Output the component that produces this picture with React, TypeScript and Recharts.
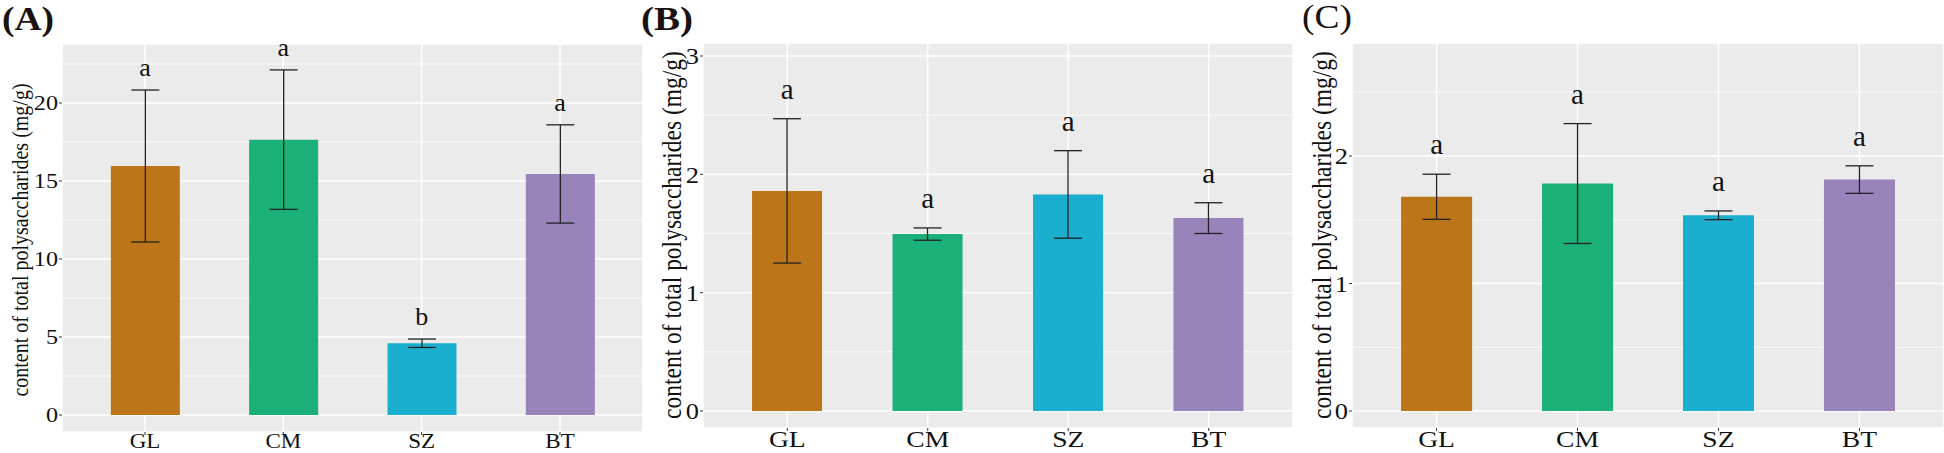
import { BarChart, Bar, XAxis, YAxis, CartesianGrid, ErrorBar, Cell, ReferenceDot } from 'recharts';

const categories = ['GL', 'CM', 'SZ', 'BT'];
const barColors = ['#BC7519', '#1AB078', '#1AAFCF', '#9884BB'];

// (A)
const meansA = [15.96, 17.65, 4.6, 15.45];
const errA = [4.87, 4.47, 0.27, 3.15];
const lettersA = ['a', 'a', 'b', 'a'];
const ticksA = [0, 5, 10, 15, 20];
const minorA = [2.5, 7.5, 12.5, 17.5, 22.5];

// (B)
const meansB = [1.86, 1.495, 1.83, 1.63];
const errB = [0.61, 0.052, 0.37, 0.13];
const lettersB = ['a', 'a', 'a', 'a'];
const ticksB = [0, 1, 2, 3];
const minorB = [0.5, 1.5, 2.5];

// (C)
const meansC = [1.68, 1.784, 1.535, 1.815];
const errC = [0.177, 0.47, 0.034, 0.108];
const lettersC = ['a', 'a', 'a', 'a'];
const ticksC = [0, 1, 2];
const minorC = [0.5, 1.5, 2.5];

const yTitle = 'content of total polysaccharides (mg/g)';
const FONT = '"Liberation Serif", "Times New Roman", serif';
// the source figure is a little wider than tall, so its text looks stretched
const SX = 1.15;

const build = (means: number[], errs: number[], letters: string[]) =>
  categories.map((name, i) => ({ name, mean: means[i], err: errs[i], letter: letters[i] }));

const XTick = (props: any) => {
  const { x, y, payload, fs } = props;
  return (
    <text
      transform={`translate(${x},${y}) scale(${SX},1)`}
      textAnchor="middle"
      dy="0.65em"
      fill="#111"
      fontSize={fs}
      fontFamily={FONT}
    >
      {payload.value}
    </text>
  );
};

const YTick = (props: any) => {
  const { x, y, payload, fs } = props;
  return (
    <text
      transform={`translate(${x},${y}) scale(${SX},1)`}
      textAnchor="end"
      dy="0.355em"
      fill="#111"
      fontSize={fs}
      fontFamily={FONT}
    >
      {payload.value}
    </text>
  );
};

type PanelProps = {
  left: number;
  width: number;
  top: number;
  xHeight: number;
  yWidth: number;
  right: number;
  data: { name: string; mean: number; err: number; letter: string }[];
  domain: [number, number];
  ticks: number[];
  minor: number[];
  barSize: number;
  capWidth: number;
  tickFont: number;
  xFont: number;
  letterFont: number;
  letterOffset: number;
};

function Panel(p: PanelProps) {
  const plotW = p.width - p.yWidth - p.right;
  const pad = plotW / 42;
  return (
    <div style={{ position: 'absolute', left: p.left, top: 0 }}>
      <BarChart
        width={p.width}
        height={453}
        data={p.data}
        margin={{ top: p.top, right: p.right, bottom: 0, left: 0 }}
      >
        <CartesianGrid fill="#EBEBEB" stroke="#FFFFFF" strokeWidth={1.4} />
        <CartesianGrid
          fill="none"
          stroke="#FFFFFF"
          strokeWidth={0.7}
          vertical={false}
          horizontalValues={p.minor}
        />
        <XAxis
          dataKey="name"
          height={p.xHeight}
          padding={{ left: pad, right: pad }}
          axisLine={false}
          tickSize={3}
          tickMargin={0}
          tickLine={{ stroke: '#333' }}
          tick={<XTick fs={p.xFont} />}
          interval={0}
        />
        <YAxis
          type="number"
          domain={p.domain}
          allowDataOverflow
          ticks={p.ticks}
          width={p.yWidth}
          axisLine={false}
          tickSize={3}
          tickMargin={1}
          tickLine={{ stroke: '#333' }}
          tick={<YTick fs={p.tickFont} />}
        />
        <Bar dataKey="mean" barSize={p.barSize} isAnimationActive={false}>
          {p.data.map((d, i) => (
            <Cell key={d.name} fill={barColors[i]} />
          ))}
          <ErrorBar dataKey="err" width={p.capWidth} stroke="#222" strokeWidth={1.3} isAnimationActive={false} />
        </Bar>
        {p.data.map((d) => (
          <ReferenceDot
            key={'l' + d.name}
            x={d.name}
            y={d.mean + d.err}
            r={0}
            fill="none"
            stroke="none"
            label={{
              value: d.letter,
              position: 'top',
              offset: p.letterOffset,
              fill: '#111',
              fontSize: p.letterFont,
              fontFamily: FONT,
            }}
          />
        ))}
      </BarChart>
    </div>
  );
}

export default function App() {
  return (
    <div style={{ position: 'absolute', left: 0, top: 0, width: 1944, height: 453, background: '#fff', overflow: 'hidden' }}>
      <Panel
        left={0}
        width={650}
        top={44}
        xHeight={21}
        yWidth={62}
        right={7}
        data={build(meansA, errA, lettersA)}
        domain={[-1.09, 23.78]}
        ticks={ticksA}
        minor={minorA}
        barSize={69}
        capWidth={14}
        tickFont={21}
        xFont={20}
        letterFont={26}
        letterOffset={14}
      />
      <Panel
        left={640}
        width={660}
        top={43}
        xHeight={25}
        yWidth={63}
        right={7}
        data={build(meansB, errB, lettersB)}
        domain={[-0.144, 3.11]}
        ticks={ticksB}
        minor={minorB}
        barSize={70}
        capWidth={14}
        tickFont={23}
        xFont={24}
        letterFont={29}
        letterOffset={20}
      />
      <Panel
        left={1290}
        width={654}
        top={43}
        xHeight={25}
        yWidth={62}
        right={0}
        data={build(meansC, errC, lettersC)}
        domain={[-0.133, 2.886]}
        ticks={ticksC}
        minor={minorC}
        barSize={71}
        capWidth={14}
        tickFont={23}
        xFont={24}
        letterFont={29}
        letterOffset={20}
      />
      <svg width={1944} height={453} style={{ position: 'absolute', left: 0, top: 0, pointerEvents: 'none' }}>
        <g fontFamily={FONT} fill="#1a1210">
          <text x={2} y={30} fontSize={33} fontWeight="bold" textLength={52} lengthAdjust="spacingAndGlyphs">(A)</text>
          <text x={641} y={30} fontSize={33} fontWeight="bold" textLength={52} lengthAdjust="spacingAndGlyphs">(B)</text>
          <text x={1302} y={28} fontSize={33} textLength={50} lengthAdjust="spacingAndGlyphs">(C)</text>
        </g>
        <g fontFamily={FONT} fill="#111" textAnchor="middle">
          <text x={0} y={0} fontSize={20} transform={`translate(28,240) scale(${SX},1) rotate(-90)`}>{yTitle}</text>
          <text x={0} y={0} fontSize={23.5} transform={`translate(681,235) scale(${SX},1) rotate(-90)`}>{yTitle}</text>
          <text x={0} y={0} fontSize={23.5} transform={`translate(1331,235) scale(${SX},1) rotate(-90)`}>{yTitle}</text>
        </g>
      </svg>
    </div>
  );
}
